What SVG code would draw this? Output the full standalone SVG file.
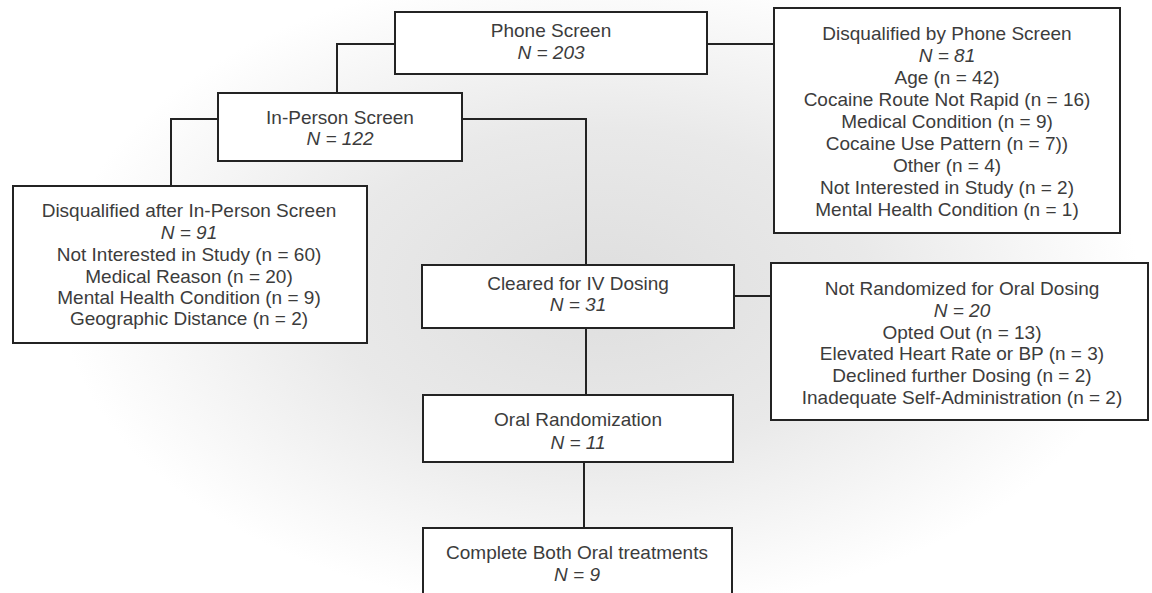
<svg xmlns="http://www.w3.org/2000/svg" width="1152" height="593" viewBox="0 0 1152 593">
<defs>
<radialGradient id="bg" cx="600" cy="290" r="540" gradientUnits="userSpaceOnUse" gradientTransform="translate(600 290) scale(1 0.6) translate(-600 -290)">
<stop offset="0" stop-color="#dedede"/>
<stop offset="0.5" stop-color="#e9e9e9"/>
<stop offset="1" stop-color="#ffffff"/>
</radialGradient>
<style>
.box{fill:#ffffff;stroke:#232323;stroke-width:2}
.ln{fill:none;stroke:#232323;stroke-width:2}
text{font-family:"Liberation Sans",Arial,sans-serif;font-size:19px;fill:#3c3c3c;text-anchor:middle}
.it{font-style:italic}
</style>
</defs>
<rect x="0" y="0" width="1152" height="593" fill="url(#bg)"/>
<g id="connectors">
<path class="ln" d="M395 44 H337 V93"/>
<path class="ln" d="M707 44 H774"/>
<path class="ln" d="M218 119 H171 V186"/>
<path class="ln" d="M462 119 H586 V265"/>
<path class="ln" d="M734 296 H771"/>
<path class="ln" d="M586 328 V395"/>
<path class="ln" d="M584 462 V528"/>
</g>
<g id="phone-screen">
<rect class="box" x="395" y="12" width="312" height="62"/>
<text x="551" y="37">Phone Screen</text>
<text class="it" x="551" y="59">N = 203</text>
</g>
<g id="disq-phone">
<rect class="box" x="774" y="8" width="346" height="225"/>
<text x="947" y="40">Disqualified by Phone Screen</text>
<text class="it" x="947" y="62">N = 81</text>
<text x="947" y="84">Age (n = 42)</text>
<text x="947" y="106">Cocaine Route Not Rapid (n = 16)</text>
<text x="947" y="128">Medical Condition (n = 9)</text>
<text x="947" y="150">Cocaine Use Pattern (n = 7))</text>
<text x="947" y="172">Other (n = 4)</text>
<text x="947" y="194">Not Interested in Study (n = 2)</text>
<text x="947" y="216">Mental Health Condition (n = 1)</text>
</g>
<g id="in-person">
<rect class="box" x="218" y="93" width="244" height="68"/>
<text x="340" y="124">In-Person Screen</text>
<text class="it" x="340" y="145">N = 122</text>
</g>
<g id="disq-in-person">
<rect class="box" x="13" y="186" width="354" height="157"/>
<text x="189" y="217">Disqualified after In-Person Screen</text>
<text class="it" x="189" y="239">N = 91</text>
<text x="189" y="261">Not Interested in Study (n = 60)</text>
<text x="189" y="283">Medical Reason (n = 20)</text>
<text x="189" y="304">Mental Health Condition (n = 9)</text>
<text x="189" y="325">Geographic Distance (n = 2)</text>
</g>
<g id="cleared-iv">
<rect class="box" x="422" y="265" width="312" height="63"/>
<text x="578" y="290">Cleared for IV Dosing</text>
<text class="it" x="578" y="311">N = 31</text>
</g>
<g id="not-randomized">
<rect class="box" x="771" y="263" width="377" height="157"/>
<text x="962" y="295">Not Randomized for Oral Dosing</text>
<text class="it" x="962" y="317">N = 20</text>
<text x="962" y="339">Opted Out (n = 13)</text>
<text x="962" y="360">Elevated Heart Rate or BP (n = 3)</text>
<text x="962" y="382">Declined further Dosing (n = 2)</text>
<text x="962" y="404">Inadequate Self-Administration (n = 2)</text>
</g>
<g id="oral-randomization">
<rect class="box" x="423" y="395" width="310" height="67"/>
<text x="578" y="426">Oral Randomization</text>
<text class="it" x="578" y="449">N = 11</text>
</g>
<g id="complete-both">
<rect class="box" x="423" y="528" width="309" height="72"/>
<text x="577" y="559">Complete Both Oral treatments</text>
<text class="it" x="577" y="581">N = 9</text>
</g>
</svg>
